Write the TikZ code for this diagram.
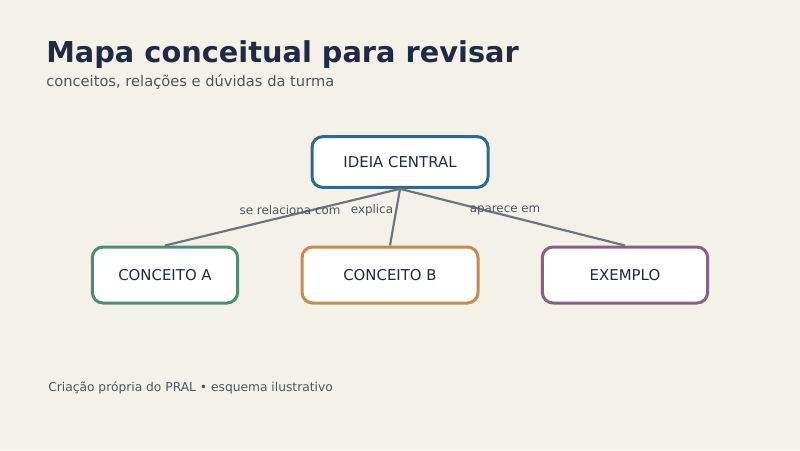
\documentclass[tikz,border=0pt]{standalone}
\usepackage{fontspec}
\setmainfont{DejaVu Sans}
\usetikzlibrary{positioning}
\definecolor{bgcol}{HTML}{F4F1E8}
\definecolor{titlecol}{HTML}{1F2A44}
\definecolor{subcol}{HTML}{4B5563}
\definecolor{edgecol}{HTML}{6B7280}
\definecolor{bluecol}{HTML}{2E6A8E}
\definecolor{greencol}{HTML}{4E8C74}
\definecolor{orangecol}{HTML}{C98A4B}
\definecolor{purplecol}{HTML}{8A5F86}
\tikzset{
  box/.style={
    rectangle,
    rounded corners=8pt,
    fill=white,
    line width=2.25pt,
    minimum height=40pt,
    text=titlecol,
    font=\fontsize{11.2}{13}\selectfont},
  link/.style={draw=edgecol, line width=1.6pt},
  linklabel/.style={text=subcol, font=\fontsize{8.9}{10}\selectfont},
}

\begin{document}
\begin{tikzpicture}[x=0.75pt, y=-0.75pt]
    %background
    \fill[bgcol] (0,0) rectangle (800,450);
    \useasboundingbox (0,0) rectangle (800,450);

    %titles
    \node[anchor=base west, inner sep=0pt, text=titlecol, font=\bfseries\fontsize{21.6}{26}\selectfont]
        (title) at (46,62) {Mapa conceitual para revisar};
    \node[anchor=base west, inner sep=0pt, text=subcol, font=\fontsize{11}{13}\selectfont]
        (subtitle) at (46,86) {conceitos, relações e dúvidas da turma};

    %concepts
    \node[box, draw=bluecol, minimum width=132pt, minimum height=38pt] (central) at (400,162) {IDEIA CENTRAL};
    \node[box, draw=greencol, minimum width=109pt, minimum height=42pt] (conceitoA) at (165,275) {CONCEITO A};
    \node[box, draw=orangecol, minimum width=132pt, minimum height=42pt] (conceitoB) at (390,275) {CONCEITO B};
    \node[box, draw=purplecol, minimum width=124pt, minimum height=42pt] (exemplo) at (625,275) {EXEMPLO};

    %links
    \draw[link] (central.south) -- (conceitoA.north);
    \draw[link] (central.south) -- (conceitoB.north);
    \draw[link] (central.south) -- (exemplo.north);

    %link names
    \node[linklabel] (relaciona) at (290,210) {se relaciona com};
    \node[linklabel] (explica) at (372,210) {explica};
    \node[linklabel] (aparece) at (505,210) {aparece em};

    %source
    \node[anchor=base west, inner sep=0pt, text=subcol, font=\fontsize{9.2}{11}\selectfont]
        (fonte) at (48,391) {Criação própria do PRAL • esquema ilustrativo};
\end{tikzpicture}
\end{document}
